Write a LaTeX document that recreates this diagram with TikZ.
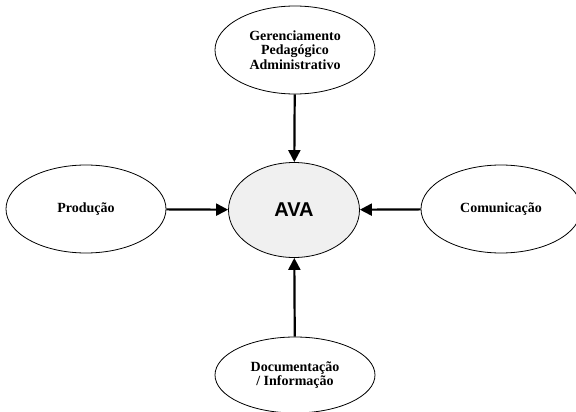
\documentclass[tikz,border=0pt]{standalone}
\usepackage{fontspec}
\setmainfont{Liberation Serif}
\newfontfamily\avafont{Liberation Sans}
\usetikzlibrary{arrows.meta,shapes.geometric}
\definecolor{avafill}{HTML}{F0F0F0}
\begin{document}
\begin{tikzpicture}[x=1pt,y=-1pt,
  topic/.style={draw=black, line width=0.8pt, ellipse, fill=white,
    minimum width=160pt, minimum height=88pt, inner sep=0pt,
    align=center, font=\fontsize{14}{14.5}\selectfont\bfseries},
  hub/.style={draw=black, line width=0.8pt, ellipse, fill=avafill,
    minimum width=131pt, minimum height=95pt, inner sep=0pt,
    font=\avafont\fontsize{20}{20}\selectfont\bfseries},
  link/.style={line width=2.2pt, -{Triangle[length=12pt,width=12pt]}}]
\useasboundingbox (0,0) rectangle (576,412);
\node[hub] (ava) at (294,210) {AVA};
\node[topic] (ger) at (295,50) {Gerenciamento\\Pedagógico\\Administrativo};
\node[topic] (prod) at (86,209) {Produção};
\node[topic] (com) at (501,209) {Comunicação};
\node[topic, minimum height=76pt] (doc) at (295,375) {Documentação\\/ Informação};
\draw[link] (ger) -- (ava);
\draw[link] (prod) -- (ava);
\draw[link] (com) -- (ava);
\draw[link] (doc) -- (ava);
\end{tikzpicture}
\end{document}
